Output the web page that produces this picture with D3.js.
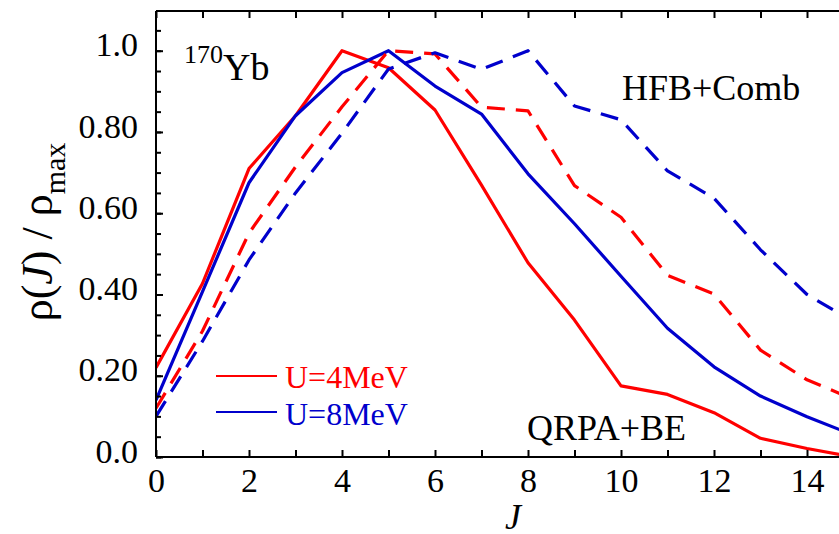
<!DOCTYPE html>
<html>
<head>
    <meta charset="utf-8">
    <script src="https://cdn.jsdelivr.net/npm/d3@7"></script>
    <style>
        body { margin: 0; background: white; }
        svg text { font-family: 'Liberation Serif', 'Times New Roman', serif; }
        .axis path, .axis line { stroke: black; stroke-width: 2px; }
        .axis text { font-size: 34px; fill: black; font-family: 'Liberation Serif', 'Times New Roman', serif; }
    </style>
</head>
<body>
<div id="chart"></div>
<script>
    // spin J and normalised level densities
    var J = [0, 1, 2, 3, 4, 5, 6, 7, 8, 9, 10, 11, 12, 13, 14, 15];
    var qrpaU4 = [0.22, 0.427, 0.71, 0.84, 1.0, 0.958, 0.854, 0.669, 0.478, 0.337, 0.175, 0.154, 0.109, 0.046, 0.021, 0.0];
    var qrpaU8 = [0.14, 0.407, 0.675, 0.84, 0.946, 1.0, 0.913, 0.844, 0.697, 0.574, 0.445, 0.317, 0.222, 0.15, 0.099, 0.054];
    var hfbU4 = [0.12, 0.31, 0.551, 0.714, 0.862, 1.0, 0.992, 0.861, 0.852, 0.668, 0.59, 0.447, 0.401, 0.263, 0.19, 0.142];
    var hfbU8 = [0.10, 0.285, 0.485, 0.65, 0.797, 0.955, 0.995, 0.954, 1.0, 0.864, 0.83, 0.704, 0.637, 0.51, 0.40, 0.333];

    var xTicks = [0, 2, 4, 6, 8, 10, 12, 14];
    var yTicks = [0, 0.2, 0.4, 0.6, 0.8, 1.0];
    var yTickLabels = ["0.0", "0.20", "0.40", "0.60", "0.80", "1.0"];
    var legendLabels = ["U=4MeV", "U=8MeV"];

    var red = "#ff0000", blue = "#0000cc";

    var width = 839, height = 534;
    var plotLeft = 156, plotTop = 11, plotBottom = 457;

    var svg = d3.select("#chart").append("svg")
        .attr("width", width)
        .attr("height", height);

    var x = d3.scaleLinear().domain([0, 15]).range([plotLeft, plotLeft + 46.5 * 15]);
    var y = d3.scaleLinear().domain([0, 1.1]).range([plotBottom, plotBottom - 406.3 * 1.1]);

    svg.append("clipPath").attr("id", "plot")
        .append("rect")
        .attr("x", plotLeft).attr("y", plotTop)
        .attr("width", width - plotLeft).attr("height", plotBottom - plotTop);

    // curves
    var series = [
        { v: qrpaU4, c: red, dash: null },
        { v: qrpaU8, c: blue, dash: null },
        { v: hfbU4, c: red, dash: "18,11" },
        { v: hfbU8, c: blue, dash: "18,11" }
    ];
    var line = d3.line()
        .x(function (d, i) { return x(J[i]); })
        .y(function (d) { return y(d); });

    svg.append("g").attr("clip-path", "url(#plot)")
        .selectAll("path")
        .data(series)
        .enter().append("path")
        .attr("d", function (s) { return line(s.v); })
        .attr("fill", "none")
        .attr("stroke", function (s) { return s.c; })
        .attr("stroke-width", 3.2)
        .attr("stroke-linejoin", "round")
        .attr("stroke-dasharray", function (s) { return s.dash; });

    // axes, ticks point inwards
    var minorX = d3.range(0, 15);
    var minorY = d3.range(0, 22).map(function (i) { return i * 0.05; });

    svg.append("g").attr("class", "axis")
        .attr("transform", "translate(0," + plotBottom + ")")
        .call(d3.axisBottom(x).tickValues(minorX).tickFormat("").tickSizeInner(-7).tickSizeOuter(0))
        .call(function (g) { g.select(".domain").attr("d", "M" + plotLeft + ",0H" + width); });

    svg.append("g").attr("class", "axis")
        .attr("transform", "translate(0," + plotBottom + ")")
        .call(d3.axisBottom(x).tickValues(xTicks).tickSize(0).tickPadding(11).tickFormat(d3.format("d")))
        .call(function (g) { g.select(".domain").remove(); });

    svg.append("g").attr("class", "axis")
        .attr("transform", "translate(0," + plotTop + ")")
        .call(d3.axisTop(x).tickValues(minorX).tickFormat("").tickSizeInner(-7).tickSizeOuter(0))
        .call(function (g) { g.select(".domain").attr("d", "M" + plotLeft + ",0H" + width); });

    svg.append("g").attr("class", "axis")
        .attr("transform", "translate(" + plotLeft + ",0)")
        .call(d3.axisLeft(y).tickValues(minorY).tickFormat("").tickSizeInner(-5).tickSizeOuter(0))
        .call(function (g) { g.select(".domain").attr("d", "M0," + plotTop + "V" + plotBottom); });

    svg.append("g").attr("class", "axis")
        .attr("transform", "translate(" + plotLeft + ",0)")
        .call(d3.axisLeft(y).tickValues(yTicks).tickSizeInner(-7).tickSizeOuter(0).tickPadding(18)
            .tickFormat(function (d, i) { return yTickLabels[i]; }))
        .call(function (g) {
            g.select(".domain").remove();
            g.selectAll("text").attr("dy", "0.15em");
        });

    // axis titles
    svg.append("text")
        .attr("x", 513)
        .attr("y", 529)
        .attr("text-anchor", "middle")
        .style("font-size", "36px")
        .style("font-style", "italic")
        .text("J");

    var yt = svg.append("text")
        .attr("transform", "translate(52,232) rotate(-90)")
        .attr("text-anchor", "middle")
        .style("font-size", "44px");
    yt.append("tspan").text("ρ(");
    yt.append("tspan").style("font-style", "italic").text("J");
    yt.append("tspan").text(") / ρ");
    yt.append("tspan").attr("dy", 13).style("font-size", "30px").text("max");

    // annotations
    var nuc = svg.append("text").attr("x", 184).attr("y", 80).style("font-size", "38px");
    nuc.append("tspan").attr("dy", -17).style("font-size", "26px").text("170");
    nuc.append("tspan").attr("dy", 17).text("Yb");

    svg.append("text").attr("x", 622).attr("y", 100).style("font-size", "36px").text("HFB+Comb");
    svg.append("text").attr("x", 527).attr("y", 440).style("font-size", "36px").text("QRPA+BE");

    // legend
    var legend = svg.append("g");
    legend.selectAll("line")
        .data(legendLabels)
        .enter().append("line")
        .attr("x1", 216).attr("x2", 277)
        .attr("y1", function (d, i) { return 376 + i * 36; })
        .attr("y2", function (d, i) { return 376 + i * 36; })
        .attr("stroke", function (d, i) { return i === 0 ? red : blue; })
        .attr("stroke-width", 2);
    legend.selectAll("text")
        .data(legendLabels)
        .enter().append("text")
        .attr("x", 285)
        .attr("y", function (d, i) { return 388 + i * 37; })
        .style("font-size", "32px")
        .style("fill", function (d, i) { return i === 0 ? red : blue; })
        .text(function (d) { return d; });
</script>
</body>
</html>
